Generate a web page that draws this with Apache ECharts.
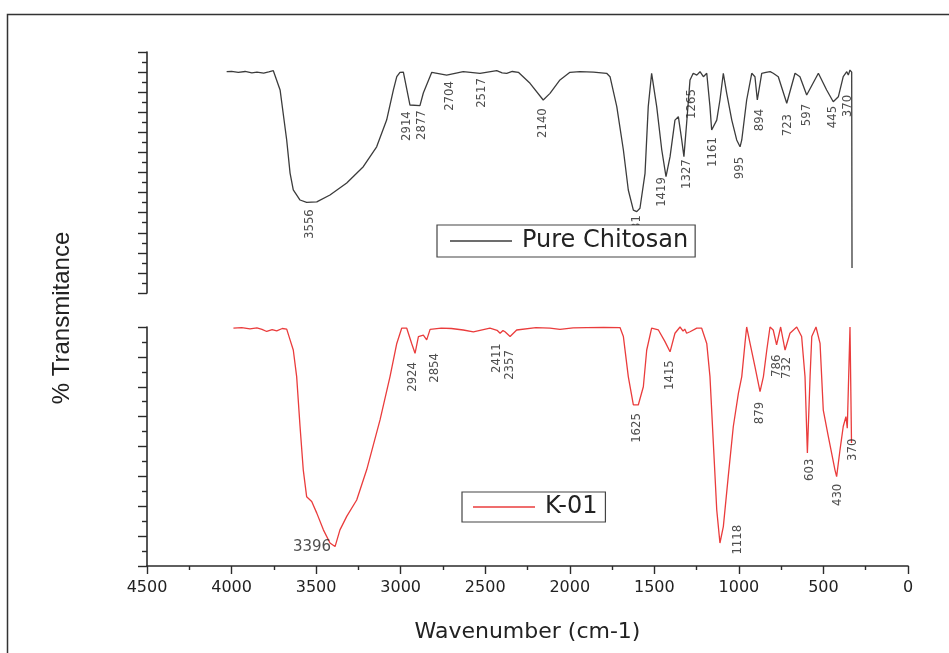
<!DOCTYPE html>
<html>
<head>
<meta charset="utf-8">
<script src="https://cdn.jsdelivr.net/npm/echarts@6/dist/echarts.min.js"></script>
<style>html,body{margin:0;padding:0;background:#fff;}#c{width:949px;height:653px;}</style>
</head>
<body>
<div id="c"></div>
<script>
// ---- Pure Chitosan spectrum (wavenumber cm-1, transmittance a.u.) ----
const topWavenumber = [4029,4000,3960,3920,3880,3850,3810,3780,3753,3713,3674,3654,3635,3595,3556,3496,3418,3319,3221,3142,3083,3043,3023,3004,2984,2945,2886,2866,2816,2728,2630,2531,2432,2400,2373,2340,2304,2235,2157,2117,2058,1999,1940,1860,1782,1762,1722,1683,1654,1624,1604,1585,1555,1536,1516,1506,1486,1456,1431,1407,1378,1358,1338,1325,1309,1289,1270,1249,1230,1210,1190,1171,1161,1131,1112,1092,1072,1042,1013,993,983,954,924,905,891,865,840,815,797,767,717,668,639,599,530,481,442,412,383,362,353,343,333,331];
const topTransmittance = [110.2,110.4,109.9,110.3,109.6,110.0,109.5,110.1,110.7,101.1,76.2,59.7,51.3,46.3,45.1,45.4,48.8,54.8,62.9,72.8,86.1,101.1,107.7,109.9,110.0,93.6,93.3,99.6,109.9,108.5,110.2,109.4,110.7,109.6,109.4,110.3,109.9,104.4,96.1,99.4,106.1,109.9,110.2,110.0,109.4,107.7,92.8,71.2,51.3,41.3,40.5,42.2,59.6,92.8,109.4,109.4,92.8,71.2,57.9,67.9,86.1,87.8,76.2,67.9,84.5,106.1,109.4,108.5,110.2,107.7,109.4,92.8,81.2,86.1,96.1,109.4,99.4,86.1,76.2,72.8,76.2,96.1,109.4,107.7,96.1,109.4,109.8,110.2,109.4,107.7,94.5,109.4,107.7,98.6,109.4,101.1,95.2,97.7,107.7,110.2,108.5,111.0,110.0,12.4];

// ---- K-01 spectrum ----
const botWavenumber = [3989,3940,3891,3850,3820,3792,3760,3733,3700,3674,3654,3635,3615,3595,3576,3556,3526,3496,3457,3418,3388,3359,3319,3260,3201,3122,3063,3023,2994,2964,2935,2915,2895,2866,2846,2826,2760,2700,2630,2570,2472,2430,2412,2395,2383,2353,2314,2200,2117,2058,1980,1900,1800,1703,1683,1654,1624,1595,1565,1545,1516,1476,1437,1407,1378,1348,1330,1320,1309,1289,1249,1220,1190,1171,1151,1131,1112,1092,1063,1033,1003,983,964,954,934,905,875,855,835,816,797,777,753,727,698,658,629,609,595,579,569,544,520,501,471,432,422,402,383,367,359,343,336,334];
const botTransmittance = [79.6,79.8,79.4,79.7,79.2,78.5,79.1,78.7,79.5,79.3,75.7,72.3,63.4,46.7,32.2,23.2,21.6,17.7,12.1,7.7,6.5,12.1,16.6,22.1,32.2,48.9,63.4,74.5,79.6,79.6,74.5,71.2,76.8,77.3,75.7,79.2,79.6,79.5,79.0,78.4,79.6,78.9,77.9,78.8,78.4,76.8,79.0,79.8,79.6,79.2,79.7,79.8,79.9,79.8,76.8,63.4,53.9,53.9,60.0,72.3,79.6,79.0,75.1,71.7,77.9,80.0,78.6,79.3,77.9,78.4,79.6,79.6,74.5,63.4,41.1,18.8,7.7,13.2,29.9,46.7,57.8,63.4,74.5,80.0,74.5,66.7,58.4,63.4,72.3,80.0,79.0,74.0,80.0,72.3,77.9,80.0,76.8,63.4,37.8,63.4,76.8,80.0,74.5,52.2,43.3,32.2,29.9,38.9,46.7,50.0,46.1,80.0,80.0,41.2];

// ---- Peak annotations (text, anchor wavenumber, anchor level) ----
const topPeakText = ['3556','2914','2877','2704','2517','2140','1631','1419','1327','1265','1161','995','894','723','597','445','370'];
const topPeakWn   = [3536,2962,2874,2708,2519,2158,1602,1455,1307,1277,1153,993,875,710,597,443,355];
const topPeakLvl  = [34.3,83.1,83.6,98.1,99.6,84.6,31.4,50.3,59.2,94.1,70.2,62.2,86.1,83.6,88.6,87.6,93.1];

const botPeakText = ['3396','2924','2854','2411','2357','1625','1415','1118','879','786','732','603','430','370'];
const botPeakWn   = [3524,2927,2797,2430,2353,1602,1407,1005,875,775,715,579,414,325];
const botPeakLvl  = [6.4,63.3,66.3,69.6,67.3,46.2,63.9,8.8,51.2,67.0,66.3,32.2,23.8,38.9];

// x-axis ticks
const xMin = 0, xMax = 4500, xStep = 500;

const zip = (a, b) => a.map((v, i) => [v, b[i]]);
const narrow = "'Liberation Sans Narrow','Arial Narrow','DejaVu Sans Condensed',sans-serif";

function peakData(text, wn, lvl) {
  return text.map((t, i) => {
    const d = { value: [wn[i], lvl[i]], name: t };
    if (t === '3396') d.label = { rotate: 0, fontSize: 15, fontFamily: "'DejaVu Sans',sans-serif", color: '#222' };
    return d;
  });
}

const chart = echarts.init(document.getElementById('c'), null, { renderer: 'canvas' });

const axisColor = '#2b2b2b';
const yCommon = {
  type: 'value', position: 'left',
  axisLine: { show: true, onZero: false, lineStyle: { color: axisColor, width: 1.6 } },
  axisTick: { show: true, inside: false, length: 9, lineStyle: { color: axisColor, width: 1.4 } },
  minorTick: { show: true, splitNumber: 2, length: 5, lineStyle: { color: axisColor, width: 1.4 } },
  axisLabel: { show: false },
  splitLine: { show: false }
};

const peakLabel = {
  show: true, position: 'inside', formatter: '{b}', rotate: 90,
  fontSize: 13, fontFamily: narrow, color: '#222'
};

const legendText = { fontSize: 24, fontFamily: "'DejaVu Sans',sans-serif", color: '#222', padding: [0, 0, 0, 5], lineHeight: 24 };

chart.setOption({
  animation: false,
  backgroundColor: '#fff',
  grid: [
    { left: 147, top: 52, width: 761, height: 241 },
    { left: 147, top: 327, width: 761, height: 239 }
  ],
  xAxis: [
    { gridIndex: 0, type: 'value', min: xMin, max: xMax, interval: xStep, inverse: true, show: false },
    {
      gridIndex: 1, type: 'value', min: xMin, max: xMax, interval: xStep, inverse: true,
      name: 'Wavenumber (cm-1)', nameLocation: 'middle', nameGap: 55,
      nameTextStyle: { fontSize: 22, fontFamily: "'DejaVu Sans',sans-serif", color: '#222' },
      axisLine: { show: true, onZero: false, lineStyle: { color: axisColor, width: 1.6 } },
      axisTick: { show: true, length: 8, lineStyle: { color: axisColor, width: 1.4 } },
      minorTick: { show: true, splitNumber: 2, length: 4, lineStyle: { color: axisColor, width: 1.4 } },
      axisLabel: { fontSize: 16, fontFamily: "'DejaVu Sans',sans-serif", color: '#222', margin: 14, formatter: v => String(v) },
      splitLine: { show: false }
    }
  ],
  yAxis: [
    Object.assign({ gridIndex: 0, min: 0, max: 120, interval: 10 }, yCommon),
    Object.assign({ gridIndex: 1, min: 0, max: 80, interval: 10 }, yCommon)
  ],
  legend: [
    {
      data: [{ name: 'Pure Chitosan', icon: 'rect' }], left: 437, top: 225,
      padding: [4, 7, 4, 13], itemWidth: 62, itemHeight: 1.3,
      backgroundColor: '#fff', borderColor: '#444', borderWidth: 1.2, borderRadius: 0,
      textStyle: legendText, selectedMode: false
    },
    {
      data: [{ name: 'K-01', icon: 'rect' }], left: 462, top: 492,
      padding: [3, 8, 3, 11], itemWidth: 62, itemHeight: 1.3,
      backgroundColor: '#fff', borderColor: '#444', borderWidth: 1.2, borderRadius: 0,
      textStyle: legendText, selectedMode: false
    }
  ],
  graphic: [
    { type: 'rect', left: 5, top: 12, shape: { x: 0, y: 0, width: 990, height: 700 }, style: { fill: 'none', stroke: '#333', lineWidth: 1.5 }, silent: true },
    { type: 'text', x: 62, y: 318, rotation: Math.PI / 2,
      style: { text: '% Transmitance', fontSize: 24, fontFamily: "'Liberation Sans',Arial,sans-serif", fill: '#222', align: 'center', verticalAlign: 'middle' } }
  ],
  series: [
    {
      name: 'Pure Chitosan', type: 'line', xAxisIndex: 0, yAxisIndex: 0,
      data: zip(topWavenumber, topTransmittance), symbol: 'none', showSymbol: false, clip: false,
      lineStyle: { color: '#3c3c3c', width: 1.3 }, itemStyle: { color: '#3c3c3c' }
    },
    {
      name: 'K-01', type: 'line', xAxisIndex: 1, yAxisIndex: 1,
      data: zip(botWavenumber, botTransmittance), symbol: 'none', showSymbol: false, clip: false,
      lineStyle: { color: '#ea3c3c', width: 1.3 }, itemStyle: { color: '#ea3c3c' }
    },
    {
      name: 'topPeaks', type: 'scatter', xAxisIndex: 0, yAxisIndex: 0, symbolSize: 0,
      data: peakData(topPeakText, topPeakWn, topPeakLvl), label: peakLabel, silent: true, z: 3
    },
    {
      name: 'botPeaks', type: 'scatter', xAxisIndex: 1, yAxisIndex: 1, symbolSize: 0,
      data: peakData(botPeakText, botPeakWn, botPeakLvl), label: peakLabel, silent: true, z: 3
    }
  ]
});
</script>
</body>
</html>
